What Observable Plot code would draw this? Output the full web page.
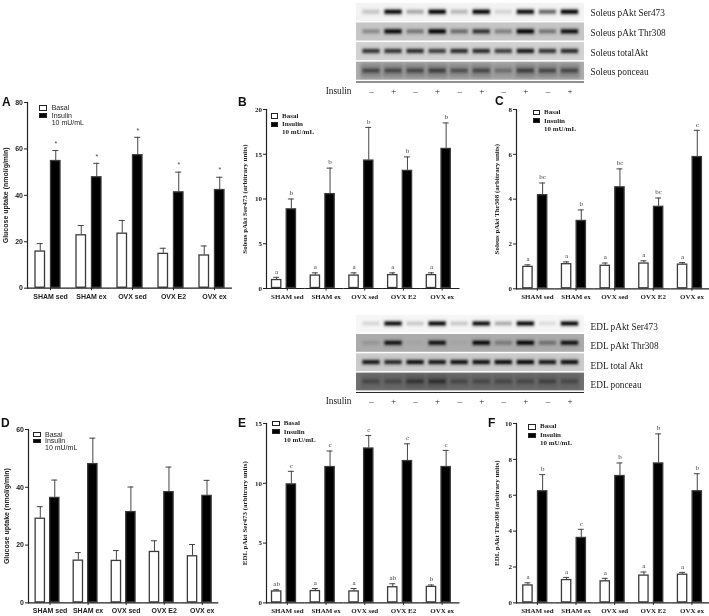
<!DOCTYPE html>
<html><head><meta charset="utf-8">
<script src="https://cdn.jsdelivr.net/npm/d3@7"></script>
<script src="https://cdn.jsdelivr.net/npm/@observablehq/plot@0.6"></script>
<style>
html,body{margin:0;padding:0;background:#fff;}
#page{position:relative;width:709px;height:616px;overflow:hidden;background:#fff;filter:blur(0.35px);}
#page svg{position:absolute;overflow:visible;background:transparent;}
.tx{position:absolute;white-space:nowrap;line-height:1;color:#222;}
.sw{position:absolute;box-sizing:border-box;border:1.2px solid #222;}
</style></head><body><div id="page"></div>
<script>
const groups = ["SHAM sed","SHAM ex","OVX sed","OVX E2","OVX ex"];
const seriesNames = ["Basal","Insulin"];

const aBasal = [16,23,23.7,15,14.3];
const aBasalTop = [19.2,27,29.2,17.2,18.2];
const aInsulin = [55,48,57.5,41.5,42.5];
const aInsulinTop = [59.3,53.8,65,50,47.8];
const aBasalMarks = ["","","","",""];
const aInsulinMarks = ["*","*","*","*","*"];

const bBasal = [1.0,1.5,1.5,1.55,1.55];
const bBasalTop = [1.25,1.75,1.75,1.75,1.75];
const bInsulin = [8.9,10.6,14.35,13.2,15.65];
const bInsulinTop = [10,13.45,18,14.7,18.5];
const bBasalMarks = ["a","a","a","a","a"];
const bInsulinMarks = ["b","b","b","b","b"];

const cBasal = [1.0,1.12,1.05,1.15,1.1];
const cBasalTop = [1.07,1.2,1.15,1.25,1.17];
const cInsulin = [4.2,3.05,4.55,3.68,5.9];
const cInsulinTop = [4.72,3.52,5.35,4.05,7.07];
const cBasalMarks = ["a","a","a","a","a"];
const cInsulinMarks = ["bc","b","bc","bc","c"];

const dBasal = [29.3,14.8,14.7,17.8,16.3];
const dBasalTop = [33.3,17.4,18.1,21.5,20.2];
const dInsulin = [36.5,48.2,31.6,38.5,37.2];
const dInsulinTop = [42.5,57,40.1,47,42.4];
const dBasalMarks = ["","","","",""];
const dInsulinMarks = ["","","","",""];

const eBasal = [1.0,1.03,1.0,1.35,1.38];
const eBasalTop = [1.1,1.2,1.2,1.6,1.5];
const eInsulin = [9.95,11.4,12.95,11.9,11.4];
const eInsulinTop = [11,12.7,14,13.3,12.75];
const eBasalMarks = ["ab","a","a","ab","b"];
const eInsulinMarks = ["c","c","c","c","c"];

const fBasal = [1.0,1.3,1.23,1.55,1.6];
const fBasalTop = [1.12,1.42,1.37,1.72,1.7];
const fInsulin = [6.25,3.65,7.1,7.8,6.25];
const fInsulinTop = [7.15,4.1,7.8,9.42,7.2];
const fBasalMarks = ["a","a","a","a","a"];
const fInsulinMarks = ["b","c","b","b","b"];

const soleusRows = ["Soleus pAkt Ser473","Soleus pAkt Thr308","Soleus totalAkt","Soleus ponceau","Insulin"];
const edlRows = ["EDL pAkt Ser473","EDL pAkt Thr308","EDL total Akt","EDL ponceau","Insulin"];
const insulinSigns = ["–","+","–","+","–","+","–","+","–","+"];
const soleusBackgrounds = ["#f3f3f3","#c6c6c6","#d2d2d2","#adadad"];
const soleusBands = [
  [.15,.95,.25,.98,.2,.98,.1,.92,.5,.98],
  [.25,.95,.35,1,.4,.7,.3,1,.35,.9],
  [.7,.7,.75,.65,.75,.75,.65,.85,.7,.75],
  [.45,.45,.45,.5,.4,.45,.25,.5,.45,.45]
];
const edlBackgrounds = ["#f6f6f6","#ababab","#cbcbcb","#707070"];
const edlBands = [
  [.1,.95,.15,.98,.15,.95,.25,.98,.08,.98],
  [.1,.9,.03,.9,.03,.98,.25,1,.3,.9],
  [.9,.8,.95,.9,.95,.95,.98,1,.9,.95],
  [.25,.25,.4,.45,.25,.25,.25,.25,.3,.25]
];

const page = document.getElementById("page");
const SANS = "'Liberation Sans',Arial,sans-serif";
const SERIF = "'Liberation Serif','Times New Roman',serif";

function toRows(basal,basalTop,insulin,insulinTop,bMarks,iMarks){
  const rows=[];
  groups.forEach((g,i)=>{
    rows.push({group:g,series:"Basal",value:basal[i],top:basalTop[i],mark:bMarks[i]});
    rows.push({group:g,series:"Insulin",value:insulin[i],top:insulinTop[i],mark:iMarks[i]});
  });
  return rows;
}

function panel(c){
  const mL=30, mT=12, mB=18, plotH=c.y0-c.yTop;
  const rows=toRows(...c.data);
  const barPad=c.gap/(c.bar+c.gap);
  const outer=((c.w/5)-2*c.bar-c.gap)/2/(c.bar+c.gap);
  const svg=Plot.plot({
    width:mL+c.w, height:plotH+mT+mB,
    marginLeft:mL, marginRight:0, marginTop:mT, marginBottom:mB,
    style:{fontFamily:c.font,fontSize:"7px",fontWeight:"bold",color:"#222",background:"transparent",overflow:"visible",left:(c.x-mL)+"px",top:(c.yTop-mT)+"px"},
    fx:{domain:groups,padding:0,round:false,label:null,axis:null},
    x:{domain:seriesNames,paddingInner:barPad,paddingOuter:outer,align:c.align,round:false,axis:null},
    y:{domain:[0,c.max],label:null},
    color:{domain:seriesNames,range:["#ffffff","#000000"]},
    marks:[
      Plot.axisFx({anchor:"bottom",label:null,tickSize:2.5,tickPadding:c.tickPad,dx:c.labelDx,fontSize:7,fontWeight:"bold"}),
      Plot.axisY({ticks:c.ticks,tickSize:3,tickPadding:1.5,label:c.label,labelAnchor:"center",labelArrow:"none",labelOffset:c.labelOffset,fontSize:7,fontWeight:"bold"}),
      Plot.ruleX(rows,{fx:"group",x:"series",y1:"value",y2:"top",stroke:"#444",strokeWidth:1}),
      Plot.tickY(rows,{fx:"group",x:"series",y:"top",stroke:"#444",strokeWidth:1,insetLeft:2.2,insetRight:2.2}),
      Plot.barY(rows,{fx:"group",x:"series",y:"value",fill:"series",stroke:"#3a3a3a",strokeWidth:1.3,inset:0.5}),
      Plot.text(rows.filter(d=>d.mark),{fx:"group",x:"series",y:"top",text:"mark",dy:c.markDy,fontSize:7,fontWeight:c.markWeight,fill:"#444"}),
      Plot.ruleY([0],{stroke:"#222",strokeWidth:1.2}),
      Plot.frame({anchor:"left",facet:"super",stroke:"#222",strokeWidth:1.2})
    ]
  });
  page.appendChild(svg);
  letter(c.letter,c.letterX,c.letterY);
  const l=c.legend;
  swatch(l.x,l.y1,l.w,l.h,"#fff");
  swatch(l.x,l.y2,l.w,l.h,"#000");
  ["Basal","Insulin","10 mU/mL"].forEach((t,i)=>{
    const d=document.createElement("div");d.className="tx";d.textContent=t;
    d.style.cssText=`left:${l.tx}px;top:${l.ty[i]-3.5}px;font:${c.legendWeight} 7px/1 ${c.font};`;
    page.appendChild(d);
  });
}
function swatch(x,y,w,h,bg){
  const s=document.createElement("div");s.className="sw";
  s.style.cssText=`left:${x}px;top:${y}px;width:${w}px;height:${h}px;background:${bg};`;
  page.appendChild(s);
}
function letter(t,x,y){
  const d=document.createElement("div");d.className="tx";d.textContent=t;
  d.style.cssText=`left:${x}px;top:${y-6}px;font:bold 12px/1 ${SANS};color:#111;`;
  page.appendChild(d);
}

function blot(rows,backgrounds,bands,top,cfg){
  const stripRows=rows.slice(0,4);
  const strips=stripRows.map((r,i)=>({row:r,bg:backgrounds[i]}));
  const bandData=[];
  stripRows.forEach((r,i)=>bands[i].forEach((v,lane)=>bandData.push({row:r,lane,v,smear:i===3})));
  const xMin=-0.18,xMax=10.16;
  const svg=Plot.plot({
    width:399,height:105,marginLeft:46,marginRight:125,marginTop:cfg.mt,marginBottom:cfg.mb,
    style:{fontFamily:SERIF,fontSize:"9px",color:"#222",background:"transparent",left:"310px",top:top+"px"},
    x:{domain:[xMin,xMax],axis:null},
    y:{domain:rows,padding:0.08,round:false,label:null},
    opacity:{domain:[0,1],range:[0,1]},
    marks:[
      Plot.barX(strips,{x1:xMin,x2:xMax,y:"row",fill:"bg"}),
      Plot.barX(bandData.filter(d=>d.smear),{x1:d=>d.lane+0.03,x2:d=>d.lane+0.97,y:"row",fill:"#000",fillOpacity:d=>d.v*0.4,insetTop:1.5,insetBottom:1.5,imageFilter:"blur(1.5px)"}),
      Plot.barX(bandData,{x1:d=>d.lane+0.08,x2:d=>d.lane+0.92,y:"row",fill:"#000",fillOpacity:d=>d.v*0.25,insetTop:5.5,insetBottom:5.5,imageFilter:"blur(1.5px)"}),
      Plot.barX(bandData,{x1:d=>d.lane+0.12,x2:d=>d.lane+0.88,y:"row",fill:"#000",fillOpacity:d=>d.v,insetTop:7,insetBottom:7.3,imageFilter:"blur(0.9px)"}),
      Plot.ruleY(["Insulin"],{y:d=>d,x1:xMin,x2:xMax,dy:-8.8,stroke:"#222",strokeWidth:1}),
      Plot.text(insulinSigns,{x:(d,i)=>i+0.5,y:()=>"Insulin",text:d=>d,fontSize:9}),
      Plot.axisY({anchor:"right",ticks:stripRows,tickSize:0,tickPadding:6,dy:cfg.labelDy,fontSize:9.3,label:null}),
      Plot.axisY({anchor:"left",ticks:["Insulin"],tickSize:0,tickPadding:5,fontSize:9.3,label:null})
    ]
  });
  page.appendChild(svg);
}

blot(soleusRows,soleusBackgrounds,soleusBands,0,{mt:1.3,mb:4.1,labelDy:1});
blot(edlRows,edlBackgrounds,edlBands,310,{mt:3.2,mb:3.8,labelDy:3});

const sansCommon={font:SANS,bar:10.5,gap:5,markWeight:"normal",legendWeight:"normal",align:0.5};
const serifCommon={font:SERIF,bar:10.3,gap:4.4,markWeight:"normal",legendWeight:"bold"};

panel({...sansCommon,letter:"A",letterX:2,letterY:102,x:27,w:205,yTop:102.3,y0:288,max:80,ticks:[0,20,40,60,80],
  label:"Glucose uptake (nmol/g/min)",labelOffset:24,tickPad:3,labelDx:2.5,markDy:-7,
  data:[aBasal,aBasalTop,aInsulin,aInsulinTop,aBasalMarks,aInsulinMarks],
  legend:{x:38.7,y1:105.3,y2:113,w:8.7,h:5.4,tx:51.7,ty:[107.7,115,122]}});
panel({...serifCommon,align:0.365,letter:"B",letterX:238,letterY:101.7,x:266,w:193.5,yTop:109.3,y0:288.3,max:20,ticks:[0,5,10,15,20],
  label:"Soleus pAkt Ser473 (arbitrary units)",labelOffset:24,tickPad:3,labelDx:1.5,markDy:-6,
  data:[bBasal,bBasalTop,bInsulin,bInsulinTop,bBasalMarks,bInsulinMarks],
  legend:{x:270.7,y1:113.3,y2:121.6,w:7.8,h:5.3,tx:282,ty:[116,124.3,132.3]}});
panel({...serifCommon,align:0.46,letter:"C",letterX:495,letterY:101,x:515.7,w:193.3,yTop:109,y0:288.3,max:8,ticks:[0,2,4,6,8],
  label:"Soleus pAkt Thr308 (arbitrary units)",labelOffset:22,tickPad:3,labelDx:1.5,markDy:-6,
  data:[cBasal,cBasalTop,cInsulin,cInsulinTop,cBasalMarks,cInsulinMarks],
  legend:{x:532.7,y1:110,y2:118,w:7.8,h:5.3,tx:544,ty:[112.7,121,129.3]}});
panel({...sansCommon,bar:10.3,gap:4.2,letter:"D",letterX:1,letterY:423,x:27.7,w:190.3,yTop:429.3,y0:602.7,max:60,ticks:[0,20,40,60],
  label:"Glucose uptake (nmol/g/min)",labelOffset:24,tickPad:3,labelDx:2.5,markDy:-7,
  data:[dBasal,dBasalTop,dInsulin,dInsulinTop,dBasalMarks,dInsulinMarks],
  legend:{x:33.3,y1:432.3,y2:439,w:8,h:4.3,tx:45,ty:[434.3,440.7,447.7]}});
panel({...serifCommon,align:0.365,letter:"E",letterX:238,letterY:423,x:266,w:193.5,yTop:423.3,y0:602.7,max:15,ticks:[0,5,10,15],
  label:"EDL pAkt Ser473 (arbitrary units)",labelOffset:24,tickPad:3,labelDx:1.5,markDy:-6,
  data:[eBasal,eBasalTop,eInsulin,eInsulinTop,eBasalMarks,eInsulinMarks],
  legend:{x:272.3,y1:421,y2:429.3,w:7.4,h:5,tx:283.7,ty:[423.7,432,440.3]}});
panel({...serifCommon,align:0.46,letter:"F",letterX:488,letterY:423,x:515.7,w:193.3,yTop:423.3,y0:602.7,max:10,ticks:[0,2,4,6,8,10],
  label:"EDL pAkt Thr308 (arbitrary units)",labelOffset:22,tickPad:3,labelDx:1.5,markDy:-6,
  data:[fBasal,fBasalTop,fInsulin,fInsulinTop,fBasalMarks,fInsulinMarks],
  legend:{x:528.3,y1:424.3,y2:432.7,w:7.7,h:5.3,tx:540,ty:[426.7,435,443.3]}});
</script></body></html>
